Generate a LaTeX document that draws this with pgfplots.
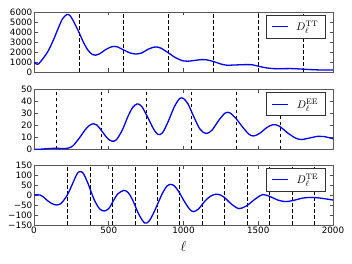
\documentclass[border=0pt]{standalone}
\usepackage[no-math]{fontspec}
\setmainfont{DejaVu Sans}
\usepackage{pgfplots}
\pgfplotsset{compat=1.18}

\pgfplotsset{
  panel/.style={
    scale only axis, width=299bp, height=60bp, xmin=0, xmax=2000,
    anchor=south west,
    xtick={0,500,1000,1500,2000},
    axis line style={black!65, line width=0.9bp},
    every tick/.style={black!70, line width=0.6bp},
    major tick length=3.5bp,
    tick label style={font=\fontsize{8.8}{10}\selectfont},
    yticklabel style={inner xsep=1.5bp},
    xticklabel style={inner ysep=2bp},
    /pgf/number format/assume math mode=true,
    /pgf/number format/1000 sep={},
    legend style={at={(0.975,0.95)}, anchor=north east, draw=black!80, fill=white,
      line width=0.6bp, font=\fontsize{11}{13}\selectfont, inner xsep=5bp, inner ysep=4bp,
      /tikz/every odd column/.append style={column sep=6bp}},
    legend cell align=left,
    legend image code/.code={\draw[blue, line width=1.3bp] (0bp,0bp) -- (16bp,0bp);},
  },
  curve/.style={blue, line width=1.3bp, smooth, mark=none},
  vl/.style={black, line width=0.6bp, dash pattern=on 3.5bp off 2.5bp, forget plot},
}

\begin{document}
\begin{tikzpicture}

% ---------------- TT ----------------
\begin{axis}[panel, at={(34bp,192bp)}, ymin=0, ymax=6000,
  ytick={0,1000,2000,3000,4000,5000,6000}, xticklabels={}]
\pgfplotsinvokeforeach{300,600,900,1200,1500,1800}{
  \addplot[vl] coordinates {(#1,0) (#1,6000)};
}
\addplot[curve] coordinates {
(2,1000) (10,850) (20,780) (30,800) (50,1150) (80,1750) (100,2250) (130,3200)
(160,4300) (190,5300) (220,5750) (240,5650) (260,5200) (280,4600) (300,4000)
(330,3000) (360,2200) (390,1750) (410,1680) (440,1830) (480,2250) (520,2530)
(540,2560) (560,2500) (600,2200) (640,1920) (680,1800) (720,1900) (760,2250)
(800,2480) (820,2500) (850,2380) (900,1900) (950,1400) (1000,1100) (1030,1080)
(1070,1150) (1120,1240) (1150,1230) (1200,1050) (1250,800) (1290,680) (1340,700)
(1420,740) (1460,720) (1500,580) (1550,420) (1600,340) (1650,330) (1720,340)
(1780,300) (1850,240) (1900,210) (2000,190)
};
\addlegendentry{$D_\ell^{\mathrm{TT}}$}
\end{axis}

% ---------------- EE ----------------
\begin{axis}[panel, at={(34bp,114.5bp)}, ymin=0, ymax=50,
  ytick={0,10,20,30,40,50}, xticklabels={}]
\pgfplotsinvokeforeach{150,450,750,1050,1350,1650}{
  \addplot[vl] coordinates {(#1,0) (#1,50)};
}
\addplot[curve] coordinates {
(2,0.05) (50,0.3) (100,0.8) (150,1.0) (200,0.8) (230,1.2) (260,3) (300,9)
(340,16) (370,20) (397,21.5) (420,20.5) (450,16) (490,9.5) (520,7) (550,8)
(590,16) (630,28) (660,35) (690,38) (720,36) (760,27) (800,17) (830,12.5)
(860,14) (900,24) (940,36) (975,42.5) (1000,42.5) (1030,38) (1070,27) (1110,17)
(1150,13.3) (1190,16) (1240,25) (1280,30.5) (1310,30.5) (1350,26) (1400,18)
(1440,12.5) (1470,11.3) (1510,13.5) (1560,18.5) (1600,20.7) (1640,19.5)
(1700,13.5) (1750,9.5) (1790,8.3) (1840,9.5) (1900,11) (1940,10.8) (2000,9)
};
\addlegendentry{$D_\ell^{\mathrm{EE}}$}
\end{axis}

% ---------------- TE ----------------
\begin{axis}[panel, at={(34bp,39bp)}, ymin=-150, ymax=150,
  ytick={-150,-100,-50,0,50,100,150},
  yticklabels={−150,−100,−50,0,50,100,150},
  xlabel={$\ell$},
  xlabel style={font=\fontsize{14}{14}\selectfont, inner sep=1bp, yshift=-5bp}]
\pgfplotsinvokeforeach{225,375,525,675,825,975,1125,1275,1425,1575,1725,1875}{
  \addplot[vl] coordinates {(#1,-150) (#1,150)};
}
\addplot[curve] coordinates {
(2,0) (20,1) (40,0) (60,-8) (90,-28) (120,-43) (150,-50) (180,-43) (210,-15)
(230,10) (260,60) (290,108) (310,117) (330,108) (360,60) (385,10) (410,-35)
(440,-70) (470,-80) (500,-68) (530,-30) (560,5) (600,23) (630,12) (660,-25)
(700,-95) (740,-140) (770,-130) (800,-90) (830,-40) (860,10) (890,45) (915,53)
(940,45) (970,15) (1000,-25) (1040,-70) (1066,-83) (1100,-70) (1150,-25)
(1190,-2) (1230,4) (1270,-10) (1320,-45) (1370,-68) (1420,-55) (1480,-20)
(1530,2) (1580,-8) (1630,-25) (1680,-33) (1730,-28) (1800,-15) (1860,-12)
(1920,-16) (2000,-25)
};
\addlegendentry{$D_\ell^{\mathrm{TE}}$}
\end{axis}

\pgfresetboundingbox
\path[use as bounding box] (0bp,0bp) rectangle (352bp,264bp);
\end{tikzpicture}
\end{document}
